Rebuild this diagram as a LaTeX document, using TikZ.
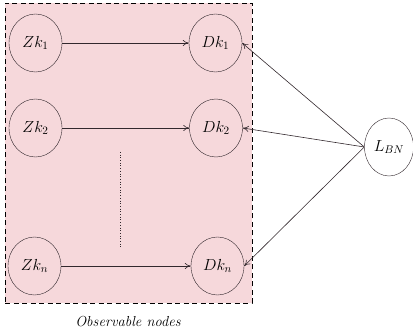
\documentclass[tikz,border=0pt]{standalone}
\usepackage{fix-cm}
\usetikzlibrary{shapes.geometric,arrows.meta}
\definecolor{pinkbg}{RGB}{246,216,219}
\definecolor{linegray}{RGB}{50,40,45}
\begin{document}
\begin{tikzpicture}[x=1pt,y=-1pt,
  var/.style={draw=linegray,fill=pinkbg,ellipse,minimum width=53pt,minimum height=58pt,inner sep=0pt,font=\fontsize{16}{18}\selectfont},
  conn/.style={draw=linegray,line width=0.6pt,-{To[length=6pt,width=6pt]}}]
\useasboundingbox (0,0) rectangle (413,334);
\node[draw=black,dash pattern=on 5pt off 3.5pt,fill=pinkbg,line width=0.8pt,minimum width=247pt,minimum height=300pt,inner sep=0pt] (box) at (128.5,153) {};
\node[var] (z1) at (35.5,43) {$Zk_1$};
\node[var] (d1) at (215.5,43) {$Dk_1$};
\node[var] (z2) at (35.5,128) {$Zk_2$};
\node[var] (d2) at (216,128) {$Dk_2$};
\node[var] (zn) at (34.5,266) {$Zk_n$};
\node[var] (dn) at (217.5,266) {$Dk_n$};
\node[var,fill=white,minimum width=49pt] (l) at (389,147) {$L_{BN}$};
\coordinate (dt) at (120,152);
\coordinate (db) at (120,248);
\draw[linegray,dotted,line width=0.7pt] (dt) -- (db);
\draw[conn] (z1) -- (d1);
\draw[conn] (z2) -- (d2);
\draw[conn] (zn) -- (dn);
\draw[conn] (l.west) -- (d1.east);
\draw[conn] (l.west) -- (d2.east);
\draw[conn] (l.west) -- (dn.east);
\node[font=\itshape\fontsize{14.5}{17}\selectfont] (lab) at (128,322) {Observable nodes};
\end{tikzpicture}
\end{document}
